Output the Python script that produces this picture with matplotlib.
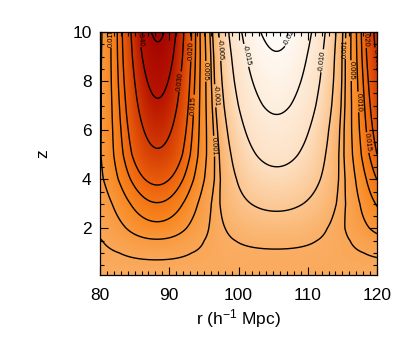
import numpy as np
import matplotlib
matplotlib.use('Agg')
from matplotlib import pyplot as plt
from matplotlib.colors import LinearSegmentedColormap
from matplotlib.ticker import MultipleLocator

plt.rcParams['font.family'] = ['Liberation Sans', 'DejaVu Sans']
plt.rcParams['mathtext.fontset'] = 'custom'
plt.rcParams['mathtext.rm'] = 'Liberation Sans'
plt.rcParams['mathtext.it'] = 'Liberation Sans'

# values, as a function of redshift z
z_nodes = [0.1, 0.5, 1.0, 1.5, 2.0, 3.0, 4.0, 5.0, 6.0, 7.0, 8.0, 9.0, 10.0]
peak_amp = [0.0, 0.0003, 0.0020, 0.0047, 0.0085, 0.0150, 0.0220, 0.0290,
            0.0340, 0.0390, 0.0435, 0.0480, 0.0520]
peak_width = [5.0, 4.9, 4.8, 4.6, 4.5, 4.5, 4.6, 4.4, 4.2, 4.05, 3.95, 3.85, 3.75]
trough_amp = [0.0, 0.0002, 0.0007, 0.0017, 0.0030, 0.0059, 0.0087, 0.0113,
              0.0136, 0.0158, 0.0177, 0.0196, 0.0215]
trough_width = [8.0, 7.9, 7.8, 7.6, 7.5, 7.2, 6.8, 6.4, 6.2, 6.2, 6.2, 6.1, 6.1]
right_width = [5.5, 5.4, 5.3, 5.1, 5.0, 4.6, 4.4, 4.3, 4.2, 4.1, 4.05, 4.0, 3.95]
peak_r, trough_r, right_r = 88.4, 105.5, 123.5

levels = [-0.020, -0.015, -0.010, -0.005, -0.001, 0.001, 0.005, 0.010,
          0.015, 0.020, 0.030, 0.040, 0.050]

# colour scale (value, colour)
cvals = [-0.0225, -0.010, 0.0, 0.010, 0.020, 0.030, 0.040, 0.055]
ccols = ['#ffffff', '#fde0c2', '#faaa5c', '#f8861e', '#ec600c', '#d23a04',
         '#b81400', '#9c0000']

r = np.linspace(80, 120, 401)
z = np.linspace(0.1, 10, 397)
R, Z = np.meshgrid(r, z)
A = np.interp(Z, z_nodes, peak_amp)
sp = np.interp(Z, z_nodes, peak_width)
T = np.interp(Z, z_nodes, trough_amp)
st = np.interp(Z, z_nodes, trough_width)
sr = np.interp(Z, z_nodes, right_width)
xi = (A * np.exp(-(R - peak_r)**2 / (2 * sp**2))
      - T * np.exp(-(R - trough_r)**2 / (2 * st**2))
      + A * np.exp(-(R - right_r)**2 / (2 * sr**2)))

vmin, vmax = cvals[0], cvals[-1]
pos = [(v - vmin) / (vmax - vmin) for v in cvals]
cmap = LinearSegmentedColormap.from_list('heat', list(zip(pos, ccols)))

fig = plt.figure(figsize=(4.07, 3.39), dpi=100)
ax = fig.add_axes([100/407, 1 - 275/339, 277/407, 243/339])
ax.imshow(xi, extent=[80, 120, 0.1, 10], origin='lower', aspect='auto',
          cmap=cmap, vmin=vmin, vmax=vmax, interpolation='bilinear')
cs = ax.contour(R, Z, xi, levels=levels, colors='black', linewidths=1.0,
                linestyles='solid')
ax.clabel(cs, fmt='%.3f', fontsize=5.5, inline=True, inline_spacing=1)

ax.set_xlim(80, 120)
ax.set_ylim(0.1, 10)
ax.xaxis.set_major_locator(MultipleLocator(10))
ax.xaxis.set_minor_locator(MultipleLocator(1))
ax.yaxis.set_major_locator(MultipleLocator(2))
ax.yaxis.set_minor_locator(MultipleLocator(0.5))
ax.tick_params(which='both', direction='in', top=True, right=True,
               width=0.8, labelsize=12.5)
ax.tick_params(axis='x', which='major', pad=9)
ax.tick_params(axis='y', which='major', pad=6)
ax.tick_params(which='major', length=6)
ax.tick_params(which='minor', length=3)
for s in ax.spines.values():
    s.set_linewidth(0.9)
ax.set_xlabel('r (h$^{-1}$ Mpc)', fontsize=12.5, labelpad=3)
ax.set_ylabel('z', fontsize=12.5, labelpad=16)

fig.savefig('out.png', dpi=100)
